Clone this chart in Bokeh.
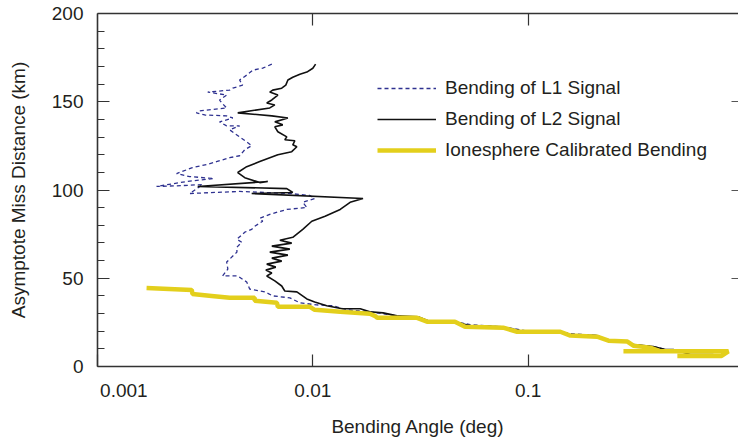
from bokeh.plotting import figure
from bokeh.models import (Range1d, LogAxis, LinearAxis, FixedTicker)
from bokeh.embed import file_html
from bokeh.resources import INLINE

# ---- data (bending angle in deg, asymptote miss distance in km) ----
l1_angle = [0.00645, 0.00585, 0.00526, 0.00493, 0.00457, 0.00472, 0.00425, 0.00411, 0.00325, 0.00398,
            0.00369, 0.00378, 0.00398, 0.00298, 0.00288, 0.00315, 0.00398, 0.00425, 0.00369, 0.00398,
            0.00457, 0.00411, 0.00457, 0.00499, 0.00520, 0.00483, 0.00457, 0.00411, 0.00357, 0.00321,
            0.00276, 0.00233, 0.00268, 0.00347, 0.00259, 0.00188, 0.00248, 0.00308, 0.00268, 0.00457,
            0.00782, 0.00969, 0.0102, 0.00898, 0.00938, 0.00757, 0.00631, 0.00567, 0.00585, 0.00537,
            0.00520, 0.00483, 0.00444, 0.00468, 0.00444, 0.00444, 0.00398, 0.00403, 0.00381, 0.00448,
            0.00493, 0.00509, 0.00598, 0.00652, 0.00782, 0.00871, 0.0104, 0.0124, 0.0144, 0.0184,
            0.0212, 0.0246, 0.0308, 0.0343, 0.0457, 0.0537, 0.0757, 0.0919, 0.102, 0.141,
            0.157, 0.209, 0.236, 0.289, 0.308, 0.381, 0.434]
l1_dist = [171.3, 169.0, 167.9, 165.1, 162.3, 159.4, 157.7, 156.6, 155.5, 153.8,
           151.0, 149.3, 146.5, 144.8, 143.7, 142.5, 142.0, 140.8, 138.6, 136.3,
           136.3, 134.1, 130.1, 126.8, 125.1, 122.8, 119.4, 118.3, 116.1, 114.4,
           112.7, 109.3, 107.6, 106.5, 104.8, 102.0, 102.5, 103.1, 98.0, 99.2,
           98.0, 96.9, 95.2, 93.0, 90.1, 89.0, 86.2, 83.9, 82.3, 79.4,
           77.7, 76.1, 72.1, 70.4, 67.6, 64.8, 59.2, 55.2, 51.3, 51.3,
           47.9, 43.9, 42.3, 40.0, 38.9, 36.1, 34.9, 34.4, 32.1, 31.0,
           29.9, 28.7, 27.6, 25.9, 25.4, 23.7, 22.5, 20.8, 19.7, 19.7,
           18.6, 17.5, 15.2, 14.1, 12.4, 11.3, 9.6]

l2_angle = [0.0103, 0.0100, 0.00938, 0.00871, 0.00807, 0.00766, 0.00749, 0.00717, 0.00651, 0.00631,
            0.00688, 0.00645, 0.00611, 0.00666, 0.00631, 0.00448, 0.00645, 0.00766, 0.00666, 0.00725,
            0.00666, 0.00688, 0.00757, 0.00741, 0.00825, 0.00807, 0.00843, 0.00798, 0.00688, 0.00567,
            0.00493, 0.00448, 0.00483, 0.00567, 0.00618, 0.00292, 0.00757, 0.00807, 0.00520, 0.0171,
            0.0149, 0.0134, 0.0114, 0.00989, 0.00898, 0.00807, 0.00703, 0.00798, 0.00645, 0.00782,
            0.00631, 0.00766, 0.00645, 0.00717, 0.00611, 0.00673, 0.00605, 0.00645, 0.00611, 0.00666,
            0.00717, 0.00741, 0.00843, 0.00938, 0.0102, 0.0116, 0.0137, 0.0166, 0.0184, 0.0212,
            0.0246, 0.0308, 0.0343, 0.0457, 0.0537, 0.0757, 0.0919, 0.102, 0.141, 0.157,
            0.209, 0.236, 0.289, 0.308, 0.381, 0.434, 0.472, 0.567, 0.725]
l2_dist = [171.3, 169.0, 166.8, 165.6, 163.9, 162.3, 159.4, 157.7, 156.6, 155.5,
           153.8, 151.0, 149.3, 148.2, 146.5, 143.7, 142.0, 140.8, 138.6, 136.9,
           135.8, 133.0, 130.1, 128.5, 127.9, 125.6, 124.5, 121.7, 120.0, 116.1,
           113.2, 109.9, 107.0, 104.2, 104.8, 102.0, 100.8, 98.6, 98.0, 95.2,
           93.0, 89.0, 85.1, 82.3, 77.7, 73.2, 71.5, 69.9, 68.2, 66.5,
           64.8, 63.1, 61.4, 59.7, 58.0, 56.3, 54.6, 53.0, 51.3, 48.5,
           45.6, 42.8, 42.3, 38.3, 36.6, 34.4, 32.7, 32.7, 31.0, 30.4,
           28.7, 28.2, 25.9, 25.4, 23.1, 22.5, 20.3, 19.7, 19.7, 18.0,
           17.5, 14.6, 14.1, 12.4, 11.3, 9.6, 9.6, 6.8, 6.8]

iono_angle = [0.00169, 0.00274, 0.00276, 0.00339, 0.00411, 0.00537, 0.00537, 0.00681, 0.00688, 0.00969,
              0.0102, 0.0134, 0.0184, 0.0194, 0.0199, 0.0305, 0.0339, 0.0457, 0.0509, 0.0765,
              0.0889, 0.141, 0.157, 0.209, 0.236, 0.289, 0.308, 0.369, 0.411, 0.277,
              0.851, 0.791, 0.493]
iono_dist = [44.5, 43.4, 41.1, 40.0, 38.9, 38.9, 37.2, 36.1, 33.8, 33.8,
             32.1, 31.0, 29.9, 28.7, 27.6, 27.6, 25.4, 25.4, 22.5, 22.0,
             19.7, 19.7, 17.5, 16.9, 14.6, 14.1, 11.8, 10.7, 8.6, 8.6,
             8.6, 6.0, 6.0]

series_names = ["Bending of L1 Signal", "Bending of L2 Signal", "Ionesphere Calibrated Bending"]
x_ticks = [0.001, 0.01, 0.1]
x_tick_labels = ["0.001", "0.01", "0.1"]
y_ticks = [0, 50, 100, 150, 200]
y_minor = [10, 20, 30, 40, 60, 70, 80, 90, 110, 120, 130, 140, 160, 170, 180, 190]
x_title = "Bending Angle (deg)"
y_title = "Asymptote Miss Distance (km)"

FONT = "Liberation Sans"
TXT = "#231f20"
AX = "#333333"
NBSP = "\u00a0"

p = figure(width=738, height=439, x_axis_type="log",
           x_range=Range1d(0.001, 0.948), y_range=Range1d(0, 200),
           output_backend="svg", toolbar_location=None,
           min_border_left=97, min_border_top=13, min_border_bottom=71, min_border_right=0)
p.outline_line_color = None
p.grid.visible = False
p.background_fill_color = "white"
p.border_fill_color = "white"

p.line(l1_angle, l1_dist, line_color="#2e3190", line_width=1.3, line_dash="4 3",
       legend_label=series_names[0])
p.line(l2_angle, l2_dist, line_color="#111111", line_width=1.6,
       legend_label=series_names[1])
p.line(iono_angle, iono_dist, line_color="#e3cf1c", line_width=4.5,
       legend_label=series_names[2])

# bottom axis; the first label sits just right of the left axis, as in the original
xa = p.xaxis[0]
xa.ticker = FixedTicker(ticks=x_ticks)
overrides = {t: s for t, s in zip(x_ticks, x_tick_labels)}
overrides[x_ticks[0]] = NBSP * 10 + x_tick_labels[0]
xa.major_label_overrides = overrides
xa.major_tick_in = 12
xa.major_tick_out = 0
xa.minor_tick_line_color = None
xa.axis_line_color = AX
xa.axis_line_width = 1.6
xa.major_tick_line_color = AX
xa.major_tick_line_width = 1.2
xa.major_label_standoff = 13
xa.major_label_text_font = FONT
xa.major_label_text_font_size = "19px"
xa.major_label_text_color = TXT
xa.axis_label = x_title
xa.axis_label_text_font = FONT
xa.axis_label_text_font_size = "19px"
xa.axis_label_text_font_style = "normal"
xa.axis_label_text_color = TXT
xa.axis_label_standoff = 12

# left axis
ya = p.yaxis[0]
ya.ticker = FixedTicker(ticks=y_ticks, minor_ticks=y_minor)
ya.major_tick_in = 12
ya.major_tick_out = 0
ya.minor_tick_in = 7
ya.minor_tick_out = 0
ya.axis_line_color = AX
ya.axis_line_width = 1.6
ya.major_tick_line_color = AX
ya.minor_tick_line_color = AX
ya.major_tick_line_width = 1.2
ya.minor_tick_line_width = 1.2
ya.major_label_standoff = 14
ya.major_label_text_font = FONT
ya.major_label_text_font_size = "19px"
ya.major_label_text_color = TXT
ya.axis_label = y_title
ya.axis_label_text_font = FONT
ya.axis_label_text_font_size = "19px"
ya.axis_label_text_font_style = "normal"
ya.axis_label_text_color = TXT
ya.axis_label_standoff = 20

# top axis (ticks only)
top = LogAxis(ticker=FixedTicker(ticks=x_ticks[1:]), major_tick_in=12, major_tick_out=0,
              minor_tick_line_color=None, axis_line_color=AX, axis_line_width=1.6,
              major_tick_line_color=AX, major_tick_line_width=1.2,
              major_label_text_font_size="1px", major_label_text_color=None,
              major_label_standoff=0)
p.add_layout(top, "above")

# right axis (ticks only)
right = LinearAxis(ticker=FixedTicker(ticks=y_ticks[1:-1]), major_tick_in=7, major_tick_out=0,
                   minor_tick_line_color=None, axis_line_color=None,
                   major_tick_line_color="#555555", major_tick_line_width=1.2,
                   major_label_text_font_size="1px", major_label_text_color=None,
                   major_label_standoff=0)
p.add_layout(right, "right")

lg = p.legend[0]
lg.location = (280, 205)
lg.border_line_color = None
lg.background_fill_alpha = 0
lg.padding = 0
lg.margin = 0
lg.spacing = 9
lg.glyph_width = 59
lg.glyph_height = 22
lg.label_height = 22
lg.label_standoff = 9
lg.label_text_font = FONT
lg.label_text_font_size = "19px"
lg.label_text_color = TXT

open("out.html", "w").write(file_html(p, INLINE))
